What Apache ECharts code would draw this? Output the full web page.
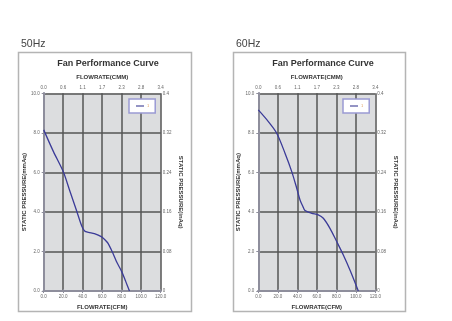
<!DOCTYPE html>
<html>
<head>
<meta charset="utf-8">
<script src="https://cdn.jsdelivr.net/npm/echarts@6/dist/echarts.min.js"></script>
<style>
html,body{margin:0;padding:0;background:#fff;}
#c{width:452px;height:321px;}
</style>
</head>
<body>
<div id="c"></div>
<script>
// Data
const cfmTicks = ['0.0','20.0','40.0','60.0','80.0','100.0','120.0'];
const cmmTicks = ['0.0','0.6','1.1','1.7','2.3','2.8','3.4'];
const mmTicks = ['0.0','2.0','4.0','6.0','8.0','10.0'];
const inTicks = ['0','0.08','0.16','0.24','0.32','0.4'];

const cfm50 = [0,10,20,27,34,39,42,46,52,59,63,66,71,75,80,84,88];
const mm50  = [8.15,7.05,6.04,5.03,4.02,3.29,3.04,2.97,2.9,2.75,2.58,2.41,1.91,1.45,0.98,0.5,0];
const cfm60 = [0,10.3,18.9,27.4,34.3,39.4,42.8,45.5,47.9,54.8,61.5,66.7,73.5,80.4,87.2,94,102.6];
const mm60  = [9.16,8.57,7.98,6.97,6.04,5.2,4.6,4.3,4.07,3.93,3.85,3.68,3.17,2.5,1.82,1.06,0];

const FONT = 'Liberation Sans';
const lineColor = '#3b3b98';

const chart = echarts.init(document.getElementById('c'), null, {renderer:'canvas'});

function xAxes(gi){
  const common = {
    type:'value', gridIndex:gi, min:0, max:120, interval:20,
    axisLine:{show:true, lineStyle:{color:'#8e8e9c', width:2}},
    axisTick:{show:true, length:2, lineStyle:{color:'#8e8e9c'}},
    nameLocation:'middle',
    nameTextStyle:{fontFamily:FONT, fontSize:6, fontWeight:'bold', color:'#333'}
  };
  return [
    Object.assign({}, common, {
      position:'bottom', name:'FLOWRATE(CFM)', nameGap:12,
      axisLabel:{fontFamily:FONT, fontSize:4.5, color:'#666', margin:3,
        formatter:(v)=>cfmTicks[Math.round(v/20)]},
      splitLine:{show:true, lineStyle:{color:'#555', width:1.5}}
    }),
    Object.assign({}, common, {
      position:'top', name:'FLOWRATE(CMM)', nameGap:11,
      axisLabel:{fontFamily:FONT, fontSize:4.5, color:'#666', margin:3,
        formatter:(v)=>cmmTicks[Math.round(v/20)]},
      splitLine:{show:false}
    })
  ];
}
function yAxes(gi){
  const common = {
    type:'value', gridIndex:gi, min:0, max:10, interval:2,
    axisLine:{show:true, lineStyle:{color:'#8e8e9c', width:2}},
    axisTick:{show:true, length:2, lineStyle:{color:'#8e8e9c'}},
    nameLocation:'middle',
    nameTextStyle:{fontFamily:FONT, fontSize:6, fontWeight:'bold', color:'#333'}
  };
  return [
    Object.assign({}, common, {
      position:'left', name:'STATIC PRESSURE(mmAq)', nameGap:15,
      axisLabel:{fontFamily:FONT, fontSize:4.5, color:'#666', margin:4,
        formatter:(v)=>mmTicks[Math.round(v/2)]},
      splitLine:{show:true, lineStyle:{color:'#555', width:1.5}}
    }),
    Object.assign({}, common, {
      position:'right', name:'STATIC PRESSURE(inAq)', nameRotate:-90, nameGap:17,
      axisLabel:{fontFamily:FONT, fontSize:4.5, color:'#666', margin:2,
        formatter:(v)=>inTicks[Math.round(v/2)]},
      splitLine:{show:false}
    })
  ];
}

function legendAt(left, idx){
  return {
    left:left, top:99, width:24, height:16,
    data:[idx===0?'1':'1 '],
    backgroundColor:'#fff', borderColor:'#9a9ad4', borderWidth:1.5,
    padding:[5,6,5,7], itemWidth:8, itemHeight:1.5, itemGap:0,
    icon:'rect',
    itemStyle:{color:'#7070b0'},
    formatter:()=> '1',
    textStyle:{fontFamily:FONT, fontSize:4, color:'#e0a060', padding:[0,0,0,-2]}
  };
}

const option = {
  backgroundColor:'#fff',
  animation:false,
  title:[
    {text:'Fan Performance Curve', left:103, top:54, textAlign:'center',
      textStyle:{fontFamily:FONT, fontSize:9, fontWeight:'bold', color:'#333'}},
    {text:'Fan Performance Curve', left:318, top:54, textAlign:'center',
      textStyle:{fontFamily:FONT, fontSize:9, fontWeight:'bold', color:'#333'}}
  ],
  legend:[legendAt(129,0), legendAt(343,1)],
  graphic:[
    {type:'rect', shape:{x:18.5, y:52.5, width:173, height:259}, style:{fill:'none', stroke:'#b4b4b4', lineWidth:1.5}, z:-1},
    {type:'rect', shape:{x:233.5, y:52.5, width:172, height:259}, style:{fill:'none', stroke:'#b4b4b4', lineWidth:1.5}, z:-1},
    {type:'text', left:21, top:39, style:{text:'50Hz', fontFamily:FONT, fontSize:10.5, fill:'#444'}},
    {type:'text', left:236, top:39, style:{text:'60Hz', fontFamily:FONT, fontSize:10.5, fill:'#444'}}
  ],
  grid:[
    {left:43.7, top:93.3, width:117, height:197.7, show:true, backgroundColor:'#dcdddf', borderWidth:0},
    {left:258.3, top:93.3, width:117, height:197.7, show:true, backgroundColor:'#dcdddf', borderWidth:0}
  ],
  xAxis:[...xAxes(0), ...xAxes(1)],
  yAxis:[...yAxes(0), ...yAxes(1)],
  series:[
    {type:'line', name:'1', xAxisIndex:0, yAxisIndex:0, smooth:0.3, symbol:'none',
      lineStyle:{color:lineColor, width:1.3}, itemStyle:{color:lineColor},
      data:cfm50.map((x,i)=>[x, mm50[i]])},
    {type:'line', name:'1 ', xAxisIndex:2, yAxisIndex:2, smooth:0.3, symbol:'none',
      lineStyle:{color:lineColor, width:1.3}, itemStyle:{color:lineColor},
      data:cfm60.map((x,i)=>[x, mm60[i]])}
  ]
};
chart.setOption(option);
</script>
</body>
</html>
